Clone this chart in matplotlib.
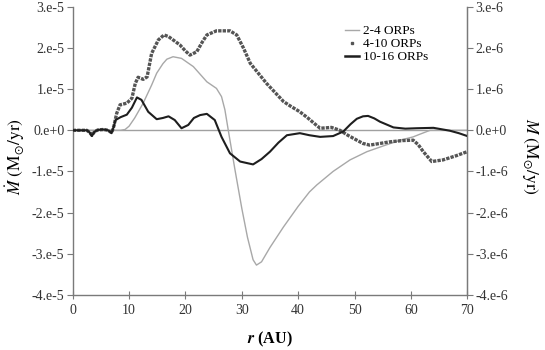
import matplotlib
matplotlib.use("Agg")
import matplotlib.pyplot as plt
from matplotlib.lines import Line2D

plt.rcParams['font.family'] = ['Liberation Serif', 'DejaVu Serif']
plt.rcParams['mathtext.fontset'] = 'stix'

# ---- data (values in units of 1e-5 Msun/yr) ----
r_24 = [0, 7, 8.5, 9.3, 10.0, 11.0, 12.5, 14.0, 14.9, 16.0, 16.7, 17.8, 19.3, 21.4,
        23.8, 25.5, 26.4, 27.0, 27.6, 28.8, 30.0, 31.0, 32.0, 32.6, 33.5, 35.0,
        37.4, 40.0, 42.0, 43.3, 46.2, 49.2, 52.2, 55.1, 58.1, 60.4, 61.5, 63.4, 66.0, 70]
m_24 = [0, 0, 0.0, 0.02, 0.1, 0.3, 0.66, 1.1, 1.39, 1.62, 1.73, 1.79, 1.75, 1.55,
        1.18, 1.02, 0.82, 0.5, 0.0, -0.97, -1.9, -2.6, -3.15, -3.28, -3.2, -2.85,
        -2.35, -1.85, -1.5, -1.33, -1.0, -0.72, -0.52, -0.38, -0.24, -0.16, -0.1, 0.0, 0.0, 0.0]

r_410 = [0, 2.5, 3.0, 3.4, 3.9, 4.5, 5.5, 6.3, 6.9, 7.3, 7.8, 8.4, 9.6, 10.5, 11.1,
         11.6, 12.5, 13.2, 14.0, 15.2, 16.2, 17.0, 17.8, 19.0, 20.0, 20.8, 22.0,
         23.0, 23.8, 25.5, 27.9, 29.1, 30.3, 31.5, 34.4, 37.4, 38.5, 40.3, 41.8,
         43.0, 43.9, 45.9, 47.4, 48.8, 50.4, 51.5, 52.7, 54.5, 56.3, 58.5, 60.4,
         61.3, 62.2, 63.7, 65.7, 68.0, 70.0]
m_410 = [0, 0, -0.05, -0.12, -0.03, 0.01, 0.02, 0.0, -0.06, 0.1, 0.41, 0.62, 0.66,
         0.78, 1.14, 1.29, 1.24, 1.30, 1.87, 2.2, 2.32, 2.28, 2.2, 2.08, 1.93, 1.83,
         1.91, 2.15, 2.32, 2.42, 2.42, 2.32, 2.0, 1.63, 1.14, 0.70, 0.6, 0.45, 0.29,
         0.15, 0.05, 0.07, 0.0, -0.12, -0.24, -0.32, -0.36, -0.32, -0.28, -0.25,
         -0.24, -0.35, -0.52, -0.76, -0.72, -0.62, -0.52]

r_1016 = [0, 2.5, 3.0, 3.4, 3.9, 4.5, 5.5, 6.3, 6.9, 7.3, 7.6, 8.5, 9.6, 10.5, 11.4,
          12.2, 13.4, 14.9, 16.0, 17.0, 18.1, 19.3, 20.5, 21.5, 22.6, 23.8, 25.2,
          26.4, 27.9, 29.7, 31.0, 32.0, 33.5, 35.0, 36.5, 38.0, 40.3, 42.0, 43.9,
          46.2, 48.0, 49.3, 50.4, 51.5, 52.4, 53.5, 54.5, 56.9, 59.0, 61.0, 64.0,
          66.9, 68.5, 70]
m_1016 = [0, 0, -0.05, -0.14, -0.03, 0.01, 0.02, 0.0, -0.07, 0.1, 0.25, 0.32, 0.38,
          0.55, 0.8, 0.74, 0.45, 0.27, 0.30, 0.34, 0.25, 0.05, 0.13, 0.30, 0.37,
          0.40, 0.25, -0.16, -0.56, -0.76, -0.80, -0.83, -0.70, -0.52, -0.30, -0.12,
          -0.07, -0.12, -0.16, -0.14, -0.03, 0.15, 0.28, 0.34, 0.35, 0.29, 0.21,
          0.07, 0.04, 0.05, 0.06, -0.01, -0.07, -0.14]

scale = 1e-5
labels = ['2-4 ORPs', '4-10 ORPs', '10-16 ORPs']
x_ticks = [0, 10, 20, 30, 40, 50, 60, 70]
yl_ticks = [3, 2, 1, 0, -1, -2, -3, -4]
yl_labels = ['3.e-5', '2.e-5', '1.e-5', '0.e+0', '-1.e-5', '-2.e-5', '-3.e-5', '-4.e-5']
yr_labels = ['3.e-6', '2.e-6', '1.e-6', '0.e+0', '-1.e-6', '-2.e-6', '-3.e-6', '-4.e-6']

fig = plt.figure(figsize=(5.45, 3.5), dpi=100)
ax = fig.add_axes([0.1334, 0.158, 0.724, 0.822])

ax.axhline(0, color='#a0a0a0', lw=1.0, zorder=1)
ax.plot(r_24, [v * scale for v in m_24], color='#a8a8a8', lw=1.0, zorder=2)
ax.plot(r_410, [v * scale for v in m_410], color='#555555', lw=2.4,
        ls=(0, (1.0, 0.35)), zorder=3)
ax.plot(r_1016, [v * scale for v in m_1016], color='#1e1e1e', lw=1.5, zorder=4)

ax.set_xlim(0, 70)
ax.set_ylim(-4e-5, 3e-5)
ax.set_xticks(x_ticks)
ax.set_xticklabels([str(t) for t in x_ticks])
ax.set_yticks([t * scale for t in yl_ticks])
ax.set_yticklabels(yl_labels)

ax.spines['top'].set_visible(False)
for s in ['left', 'bottom', 'right']:
    ax.spines[s].set_color('#7a7a7a')
    ax.spines[s].set_linewidth(1.0)

ax.tick_params(axis='x', direction='inout', length=6, color='#7a7a7a',
               labelsize=10, labelcolor='#333333', pad=4)
ax.tick_params(axis='y', direction='out', length=4, color='#7a7a7a',
               labelsize=10, labelcolor='#333333', pad=2)

ax2 = ax.twinx()
ax2.set_ylim(-4e-6, 3e-6)
ax2.set_yticks([t * scale / 10 for t in yl_ticks])
ax2.set_yticklabels(yr_labels)
ax2.spines['top'].set_visible(False)
ax2.spines['right'].set_color('#7a7a7a')
ax2.spines['left'].set_visible(False)
ax2.spines['bottom'].set_visible(False)
ax2.tick_params(axis='y', direction='out', length=4, color='#7a7a7a',
                labelsize=10, labelcolor='#333333', pad=2)

ax.set_xlabel(r'$\boldsymbol{r}$ (AU)', fontsize=11.5, fontweight='bold', labelpad=9)
ax.set_ylabel(r'$\dot{M}\ (\mathrm{M}_{\odot}/\mathrm{yr})$', fontsize=12.5, va='center')
ax.yaxis.set_label_coords(-0.146, 0.479)
ax2.set_ylabel(r'$M\ (\mathrm{M}_{\odot}/\mathrm{yr})$', fontsize=12.5, rotation=270,
               va='center')
ax2.yaxis.set_label_coords(1.160, 0.482)

handles = [Line2D([], [], color='#a8a8a8', lw=1.0),
           Line2D([], [], color='#555555', ls='none', marker='s', markersize=1.8),
           Line2D([], [], color='#1e1e1e', lw=1.8)]
ax.legend(handles, labels, loc='upper left', bbox_to_anchor=(0.69, 0.937),
          frameon=False, fontsize=9.5, handlelength=1.1, handletextpad=0.3,
          labelspacing=0.05, borderpad=0, borderaxespad=0)

fig.savefig('out.png', dpi=100)
